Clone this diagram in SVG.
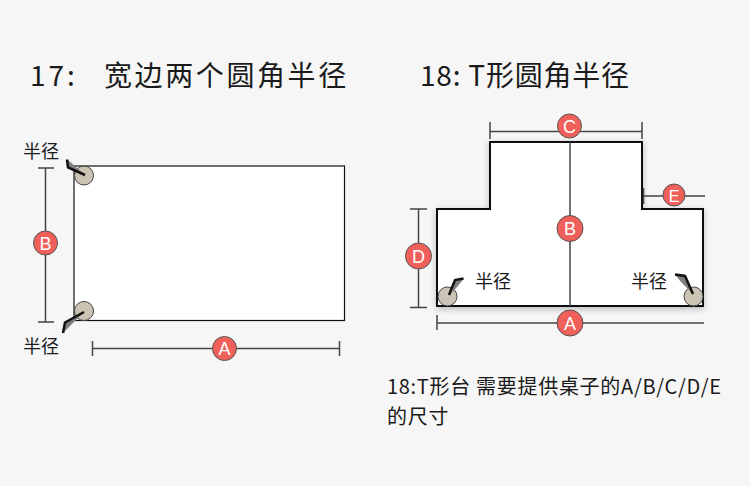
<svg xmlns="http://www.w3.org/2000/svg" width="750" height="486" viewBox="0 0 750 486">
<defs>
<style>
.t{font-family:"Noto Sans CJK SC","Noto Sans",sans-serif;fill:#1a1a1a}
.dim{stroke:#444;stroke-width:1.5;fill:none}
.badge circle{fill:#f0605a;stroke:#555;stroke-width:1}
.badge text{font-family:"Liberation Sans",Arial,sans-serif;font-size:18px;fill:#fff;text-anchor:middle}
.knob{fill:#cbc3b3;stroke:#444;stroke-width:1}
.wedge{fill:#808080;stroke:none}
.ptr{fill:none;stroke:#111;stroke-width:2.5;stroke-linejoin:miter}
</style>
<filter id="sh" x="-10%" y="-10%" width="120%" height="130%">
<feDropShadow dx="0" dy="2" stdDeviation="3" flood-color="#000" flood-opacity="0.25"/>
</filter>
</defs>
<rect x="0" y="0" width="750" height="486" fill="#f6f6f6"/>

<g id="title17">
<text class="t" x="30" y="86" font-size="28" letter-spacing="3">17:</text>
<text class="t" x="104" y="86" font-size="28" letter-spacing="2.6">宽边两个圆角半径</text>
</g>
<g id="title18">
<text class="t" x="420" y="86" font-size="28" letter-spacing="0.8">18: T形圆角半径</text>
</g>

<g id="rect17">
<rect x="74" y="166" width="270.5" height="154.5" fill="#fff" stroke="#111" stroke-width="1.2"/>
</g>
<g id="corner17-top">
<circle class="knob" cx="84" cy="175.5" r="9.5"/>
<polygon class="wedge" points="68,160 85,175 68,167"/>
<polyline class="ptr" points="85,175 68,167.5 67,159.5"/>
<text class="t" x="23" y="158" font-size="18">半径</text>
</g>
<g id="corner17-bottom">
<circle class="knob" cx="84" cy="311" r="9.5"/>
<polygon class="wedge" points="65,322.5 84,312 63,333"/>
<polyline class="ptr" points="84,312 65,322.5 63,333"/>
<text class="t" x="23" y="353" font-size="18">半径</text>
</g>

<g id="T18">
<path d="M490,142 H642 V209 H703 V306 H437 V209 H490 Z" fill="#fff" stroke="#111" stroke-width="2" filter="url(#sh)"/>
</g>
<g id="corner18-left">
<circle class="knob" cx="447.5" cy="296.5" r="9.5"/>
<polygon class="wedge" points="455,280 464,278.5 452,293"/>
<polyline class="ptr" points="449,295 455,280 463.5,278.5"/>
<text class="t" x="475" y="288" font-size="18">半径</text>
</g>
<g id="corner18-right">
<circle class="knob" cx="693.5" cy="296.5" r="9.5"/>
<polygon class="wedge" points="675,274.5 686,276 693,294 681,282"/>
<polyline class="ptr" points="693,294 685,276 675,274.5"/>
<text class="t" x="631" y="288" font-size="18">半径</text>
</g>

<g id="connectors">
<path class="dim" d="M45.5,168 V322 M38,168 H54 M38,322 H54"/>
<path class="dim" d="M92.5,348.5 H339.5 M92.5,341 V356 M339.5,341 V356"/>
<path class="dim" d="M570,142 V306"/>
<path class="dim" d="M490,131.5 H642 M490,122 V139 M642,122 V139"/>
<path class="dim" d="M643.5,196 H705 M643.5,188 V204"/>
<path class="dim" d="M418.5,209 V307.5 M410,209 H427 M410,307.5 H427"/>
<path class="dim" d="M437,323 H704 M437,315 V330"/>
</g>

<g id="badgeB17" class="badge"><circle cx="45.5" cy="243" r="12"/><text x="45.5" y="249.5">B</text></g>
<g id="badgeA17" class="badge"><circle cx="224.5" cy="348.5" r="12"/><text x="224.5" y="355">A</text></g>
<g id="badgeC18" class="badge"><circle cx="569.5" cy="126" r="12"/><text x="569.5" y="132.5">C</text></g>
<g id="badgeB18" class="badge"><circle cx="570" cy="228.5" r="13"/><text x="570" y="235">B</text></g>
<g id="badgeE18" class="badge"><circle cx="674" cy="195" r="11"/><text x="674" y="201.5" style="font-size:16px">E</text></g>
<g id="badgeD18" class="badge"><circle cx="418.5" cy="256" r="13"/><text x="418.5" y="262.5">D</text></g>
<g id="badgeA18" class="badge"><circle cx="570" cy="323" r="13"/><text x="570" y="329.5">A</text></g>

<g id="note">
<text class="t" x="387" y="394" font-size="20" letter-spacing="0.7">18:T形台 需要提供桌子的A/B/C/D/E</text>
<text class="t" x="387" y="424" font-size="20" letter-spacing="0.7">的尺寸</text>
</g>
</svg>
